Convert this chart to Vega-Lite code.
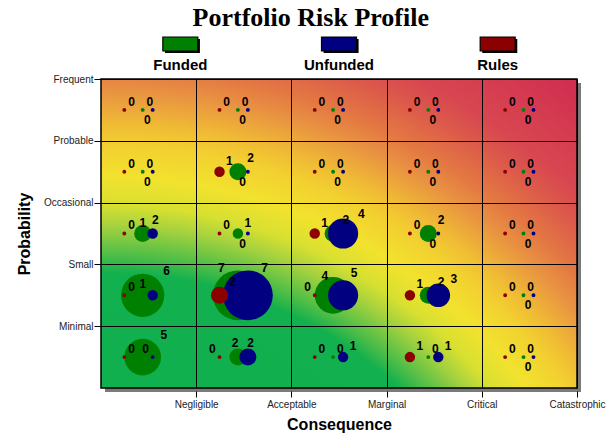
{
  "$schema": "https://vega.github.io/schema/vega-lite/v6.json",
  "width": 476,
  "height": 309,
  "autosize": {"type": "none"},
  "padding": {"left": 101, "top": 79, "right": 30, "bottom": 45},
  "background": "white",
  "config": {"view": {"stroke": null}, "font": "Liberation Sans"},
  "title": {"text": "Portfolio Risk Profile", "font": "Liberation Serif", "fontSize": 26, "fontWeight": "bold", "color": "#000", "anchor": "middle", "frame": "bounds", "offset": 4},
  "datasets": {
    "cells": [
      {"probability": "Frequent", "consequence": "Negligible", "Rules": 0, "Funded": 0, "Unfunded": 0},
      {"probability": "Frequent", "consequence": "Acceptable", "Rules": 0, "Funded": 0, "Unfunded": 0},
      {"probability": "Frequent", "consequence": "Marginal", "Rules": 0, "Funded": 0, "Unfunded": 0},
      {"probability": "Frequent", "consequence": "Critical", "Rules": 0, "Funded": 0, "Unfunded": 0},
      {"probability": "Frequent", "consequence": "Catastrophic", "Rules": 0, "Funded": 0, "Unfunded": 0},
      {"probability": "Probable", "consequence": "Negligible", "Rules": 0, "Funded": 0, "Unfunded": 0},
      {"probability": "Probable", "consequence": "Acceptable", "Rules": 1, "Funded": 2, "Unfunded": 0},
      {"probability": "Probable", "consequence": "Marginal", "Rules": 0, "Funded": 0, "Unfunded": 0},
      {"probability": "Probable", "consequence": "Critical", "Rules": 0, "Funded": 0, "Unfunded": 0},
      {"probability": "Probable", "consequence": "Catastrophic", "Rules": 0, "Funded": 0, "Unfunded": 0},
      {"probability": "Occasional", "consequence": "Negligible", "Rules": 0, "Funded": 2, "Unfunded": 1},
      {"probability": "Occasional", "consequence": "Acceptable", "Rules": 0, "Funded": 1, "Unfunded": 0},
      {"probability": "Occasional", "consequence": "Marginal", "Rules": 1, "Funded": 2, "Unfunded": 4},
      {"probability": "Occasional", "consequence": "Critical", "Rules": 0, "Funded": 2, "Unfunded": 0},
      {"probability": "Occasional", "consequence": "Catastrophic", "Rules": 0, "Funded": 0, "Unfunded": 0},
      {"probability": "Small", "consequence": "Negligible", "Rules": 0, "Funded": 6, "Unfunded": 1},
      {"probability": "Small", "consequence": "Acceptable", "Rules": 2, "Funded": 7, "Unfunded": 7},
      {"probability": "Small", "consequence": "Marginal", "Rules": 0, "Funded": 5, "Unfunded": 4},
      {"probability": "Small", "consequence": "Critical", "Rules": 1, "Funded": 2, "Unfunded": 3},
      {"probability": "Small", "consequence": "Catastrophic", "Rules": 0, "Funded": 0, "Unfunded": 0},
      {"probability": "Minimal", "consequence": "Negligible", "Rules": 0, "Funded": 5, "Unfunded": 0},
      {"probability": "Minimal", "consequence": "Acceptable", "Rules": 0, "Funded": 2, "Unfunded": 2},
      {"probability": "Minimal", "consequence": "Marginal", "Rules": 0, "Funded": 0, "Unfunded": 1},
      {"probability": "Minimal", "consequence": "Critical", "Rules": 1, "Funded": 0, "Unfunded": 1},
      {"probability": "Minimal", "consequence": "Catastrophic", "Rules": 0, "Funded": 0, "Unfunded": 0}
    ],
    "legend": [{"series": "Funded"}, {"series": "Unfunded"}, {"series": "Rules"}]
  },
  "layer": [
    {
      "data": {"values": [{}]},
      "mark": {"type": "rect", "fill": "#7a7a7a", "clip": false},
      "encoding": {
        "x": {"datum": 0.042, "type": "quantitative", "scale": {"domain": [0, 5], "nice": false, "zero": false}},
        "x2": {"datum": 5.042},
        "y": {"datum": -0.065, "type": "quantitative", "scale": {"domain": [0, 5], "nice": false, "zero": false}},
        "y2": {"datum": 4.935}
      }
    },
    {
      "data": {"values": [{}]},
      "mark": {"type": "rect", "clip": true, "fill": {"gradient": "radial", "x1": 0.0084, "y1": 1.315, "r1": 0, "x2": 0.0084, "y2": 1.315, "r2": 1.6807,
        "stops": [
          {"offset": 0, "color": "#0db04f"},
          {"offset": 0.54, "color": "#12b04e"},
          {"offset": 0.56, "color": "#48bc48"},
          {"offset": 0.6, "color": "#a8d23e"},
          {"offset": 0.625, "color": "#d8e030"},
          {"offset": 0.66, "color": "#f2e22e"},
          {"offset": 0.7, "color": "#f2d030"},
          {"offset": 0.725, "color": "#f0bc34"},
          {"offset": 0.77, "color": "#e89042"},
          {"offset": 0.795, "color": "#e47a42"},
          {"offset": 0.84, "color": "#dc5a4a"},
          {"offset": 0.87, "color": "#d84850"},
          {"offset": 0.98, "color": "#d02c50"},
          {"offset": 1, "color": "#d02c50"}
        ]}},
      "encoding": {
        "x": {"datum": 0, "type": "quantitative"},
        "x2": {"datum": 5},
        "y": {"datum": 5, "type": "quantitative"},
        "y2": {"datum": -2.7023}
      }
    },
    {
      "data": {"values": [{}]},
      "mark": {"type": "rect", "fill": null, "fillOpacity": 0, "stroke": "#000", "strokeWidth": 1.5},
      "encoding": {
        "x": {"datum": 0, "type": "quantitative"},
        "x2": {"datum": 5},
        "y": {"datum": 0, "type": "quantitative"},
        "y2": {"datum": 5}
      }
    },
    {
      "data": {"name": "cells"},
      "transform": [
        {"fold": ["Funded", "Unfunded", "Rules"], "as": ["series", "count"]},
        {"calculate": "indexof(['Negligible','Acceptable','Marginal','Critical','Catastrophic'], datum.consequence)", "as": "ci"},
        {"calculate": "indexof(['Minimal','Small','Occasional','Probable','Frequent'], datum.probability)", "as": "ri"},
        {"calculate": "datum.ci + (datum.series == 'Rules' ? 0.245 : datum.series == 'Funded' ? 0.438 : 0.543)", "as": "cx"},
        {"calculate": "datum.ri + 0.5", "as": "cy"},
        {"calculate": "2.2 + 3.7 * datum.count", "as": "rad"},
        {"calculate": "PI * datum.rad * datum.rad", "as": "area"}
      ],
      "mark": {"type": "point", "shape": "circle", "filled": true, "opacity": 1, "strokeWidth": 0},
      "encoding": {
        "x": {"field": "cx", "type": "quantitative", "scale": {"domain": [0, 5], "nice": false, "zero": false},
          "axis": {"values": [1, 2, 3, 4, 5], "labelExpr": "datum.value == 1 ? 'Negligible' : datum.value == 2 ? 'Acceptable' : datum.value == 3 ? 'Marginal' : datum.value == 4 ? 'Critical' : 'Catastrophic'",
            "grid": true, "gridColor": "#000", "gridOpacity": 1, "gridWidth": 1, "domain": false, "ticks": true, "tickColor": "#000", "tickSize": 6, "tickWidth": 1,
            "offset": 3, "labelFont": "Liberation Sans", "labelFontSize": 10, "labelColor": "#222", "labelPadding": 2, "labelFlush": false, "labelOverlap": false,
            "title": "Consequence", "titleFont": "Liberation Sans", "titleFontSize": 16, "titleFontWeight": "bold", "titleColor": "#000", "titlePadding": 7, "zindex": 1}},
        "y": {"field": "cy", "type": "quantitative", "scale": {"domain": [0, 5], "nice": false, "zero": false},
          "axis": {"values": [1, 2, 3, 4, 5], "labelExpr": "datum.value == 1 ? 'Minimal' : datum.value == 2 ? 'Small' : datum.value == 3 ? 'Occasional' : datum.value == 4 ? 'Probable' : 'Frequent'",
            "grid": true, "gridColor": "#000", "gridOpacity": 1, "gridWidth": 1, "domain": false, "ticks": true, "tickColor": "#000", "tickSize": 7, "tickWidth": 1,
            "labelFont": "Liberation Sans", "labelFontSize": 10, "labelColor": "#222", "labelPadding": 1, "labelFlush": false, "labelOverlap": false,
            "title": "Probability", "titleFont": "Liberation Sans", "titleFontSize": 16, "titleFontWeight": "bold", "titleColor": "#000", "titlePadding": 11, "zindex": 1}},
        "size": {"field": "area", "type": "quantitative", "scale": null},
        "color": {"field": "series", "type": "nominal", "scale": {"domain": ["Funded", "Unfunded", "Rules"], "range": ["#008000", "#000080", "#8b0000"]}, "legend": null}
      }
    },
    {
      "data": {"name": "cells"},
      "transform": [
        {"fold": ["Funded", "Unfunded", "Rules"], "as": ["series", "count"]},
        {"calculate": "indexof(['Negligible','Acceptable','Marginal','Critical','Catastrophic'], datum.consequence)", "as": "ci"},
        {"calculate": "indexof(['Minimal','Small','Occasional','Probable','Frequent'], datum.probability)", "as": "ri"},
        {"calculate": "datum.ci + (datum.series == 'Rules' ? 0.245 : datum.series == 'Funded' ? 0.438 : 0.543)", "as": "cx"},
        {"calculate": "datum.ri + 0.5", "as": "cy"},
        {"calculate": "2.2 + 3.7 * datum.count", "as": "rad"},
        {"calculate": "2.2 + 3.7 * datum.Unfunded", "as": "radU"},
        {"calculate": "2.2 + 3.7 * datum.Rules", "as": "radR"},
        {"calculate": "datum.Unfunded > datum.Funded ? 'tr' : (datum.Unfunded == 0 && datum.Funded < 3 ? 'b' : 'tl')", "as": "bpos"},
        {"calculate": "datum.series == 'Unfunded' ? datum.bpos : datum.series == 'Funded' ? 'tr' : ((datum.bpos == 'tl' && datum.radU + datum.radR > 11.2 && datum.radU + datum.radR < 35 && abs(datum.radU - datum.radR) < 16) ? 'tl' : 'tr')", "as": "pos"},
        {"calculate": "datum.cx + (datum.pos == 'tr' ? (0.75 * datum.rad + 5.5) : datum.pos == 'tl' ? -(0.75 * datum.rad + 5.5) : -5.4) / 95.2", "as": "lx"},
        {"calculate": "datum.cy + (datum.pos == 'b' ? -10 : (0.75 * datum.rad + 6.5)) / 61.8", "as": "ly"}
      ],
      "mark": {"type": "text", "font": "Liberation Sans", "fontSize": 12, "fontWeight": "bold", "fill": "#000", "align": "center", "baseline": "middle"},
      "encoding": {
        "x": {"field": "lx", "type": "quantitative"},
        "y": {"field": "ly", "type": "quantitative"},
        "text": {"field": "count", "type": "quantitative"}
      }
    },
    {
      "data": {"name": "legend"},
      "transform": [
        {"calculate": "(2 * indexof(['Funded','Unfunded','Rules'], datum.series) + 1) * 5 / 6", "as": "lx"}
      ],
      "mark": {"type": "point", "shape": "M-0.88,-0.28H1.12V0.52H-0.88Z", "filled": true, "opacity": 1, "fill": "#000", "size": 1225, "clip": false},
      "encoding": {
        "x": {"field": "lx", "type": "quantitative"},
        "y": {"datum": 5.566, "type": "quantitative"}
      }
    },
    {
      "data": {"name": "legend"},
      "transform": [
        {"calculate": "(2 * indexof(['Funded','Unfunded','Rules'], datum.series) + 1) * 5 / 6", "as": "lx"}
      ],
      "mark": {"type": "point", "shape": "M-1,-0.4H1V0.4H-1Z", "filled": true, "opacity": 1, "stroke": "#000", "strokeWidth": 1.2, "size": 1225, "clip": false},
      "encoding": {
        "x": {"field": "lx", "type": "quantitative"},
        "y": {"datum": 5.566, "type": "quantitative"},
        "color": {"field": "series", "type": "nominal", "scale": {"domain": ["Funded", "Unfunded", "Rules"], "range": ["#008000", "#000080", "#8b0000"]}, "legend": null}
      }
    },
    {
      "data": {"name": "legend"},
      "transform": [
        {"calculate": "(2 * indexof(['Funded','Unfunded','Rules'], datum.series) + 1) * 5 / 6", "as": "lx"}
      ],
      "mark": {"type": "text", "font": "Liberation Sans", "fontSize": 15, "fontWeight": "bold", "fill": "#000", "align": "center", "baseline": "middle", "clip": false},
      "encoding": {
        "x": {"field": "lx", "type": "quantitative"},
        "y": {"datum": 5.227, "type": "quantitative"},
        "text": {"field": "series", "type": "nominal"}
      }
    }
  ]
}
